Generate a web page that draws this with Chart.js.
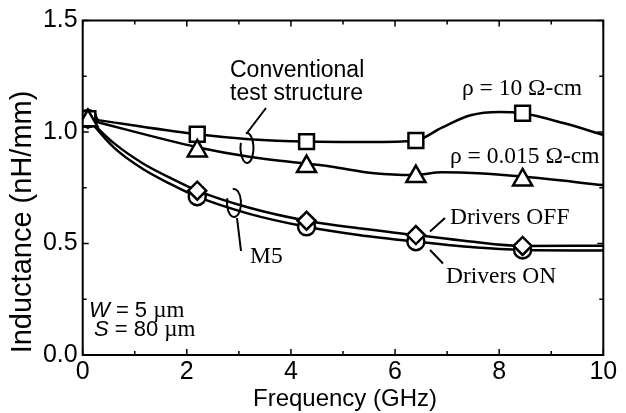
<!DOCTYPE html>
<html><head><meta charset="utf-8">
<script src="https://cdn.jsdelivr.net/npm/chart.js@4.4.1/dist/chart.umd.min.js"></script>
<style>html,body{margin:0;padding:0;background:#fff}#wrap{width:626px;height:413px}</style>
</head><body><div id="wrap"><canvas id="c" width="626" height="413"></canvas></div>
<script>
// ---- data ----
const xTickValues = [0, 2, 4, 6, 8, 10];
const yTickValues = [0.0, 0.5, 1.0, 1.5];
const markerFreq = [0.1, 2.2, 4.3, 6.4, 8.45];
const rho10Markers = [1.06, 0.99, 0.957, 0.962, 1.084];
const rho0015Markers = [1.05, 0.915, 0.845, 0.80, 0.785];
const offMarkers = [1.06, 0.737, 0.602, 0.538, 0.489];
const onMarkers = [1.06, 0.710, 0.575, 0.508, 0.471];

const rho10CurveFreq = [0.1, 2.2, 3.2, 4.3, 5.5, 6.4, 6.9, 7.45, 8.0, 8.45, 9.25, 10];
const rho10CurveVal  = [1.06, 0.99, 0.968, 0.957, 0.955, 0.962, 1.02, 1.075, 1.09, 1.084, 1.039, 0.987];
const rho0015CurveFreq = [0.1, 2.2, 3.2, 4.3, 4.76, 5.6, 6.35, 6.9, 7.6, 8.45, 10];
const rho0015CurveVal  = [1.055, 0.932, 0.889, 0.858, 0.845, 0.815, 0.807, 0.819, 0.815, 0.80, 0.762];
const offCurveFreq = [0.1, 0.6, 1.15, 1.7, 2.2, 3.2, 4.3, 5.3, 6.4, 7.4, 8.45, 10];
const offCurveVal  = [1.06, 0.95, 0.86, 0.792, 0.737, 0.66, 0.602, 0.568, 0.538, 0.51, 0.489, 0.49];
const onCurveFreq = [0.1, 0.6, 1.15, 1.7, 2.2, 3.2, 4.3, 5.3, 6.4, 7.4, 8.45, 10];
const onCurveVal  = [1.06, 0.93, 0.835, 0.765, 0.710, 0.633, 0.575, 0.538, 0.508, 0.485, 0.471, 0.469];

const SANS = '"Liberation Sans", Arial, Helvetica, sans-serif';
const SERIF = '"Liberation Serif", "Times New Roman", serif';

function pts(xs, ys) { return xs.map((x, i) => ({ x: x, y: ys[i] })); }
function curve(xs, ys) {
  return { data: pts(xs, ys), showLine: true, borderColor: '#000', borderWidth: 2.5,
    pointRadius: 0, pointHoverRadius: 0, cubicInterpolationMode: 'monotone', fill: false, order: 10 };
}
function markers(xs, ys, style, r, order) {
  return { data: pts(xs, ys), showLine: false, pointStyle: style, pointRadius: r, pointHoverRadius: r,
    backgroundColor: '#fff', borderColor: '#000', borderWidth: 2.5, order: order };
}

const deco = {
  id: 'deco',
  afterDraw(chart) {
    const ctx = chart.ctx, a = chart.chartArea, xs = chart.scales.x, ys = chart.scales.y;
    ctx.save();
    ctx.strokeStyle = '#000'; ctx.fillStyle = '#000'; ctx.lineWidth = 2;
    ctx.strokeRect(a.left, a.top, a.right - a.left, a.bottom - a.top);
    ctx.lineWidth = 1.5;
    ctx.beginPath();
    for (let v = 0; v <= 10; v += 1) {
      const px = xs.getPixelForValue(v), len = (v % 2 === 0) ? 6 : 4;
      ctx.moveTo(px, a.bottom); ctx.lineTo(px, a.bottom - len);
      ctx.moveTo(px, a.top); ctx.lineTo(px, a.top + len);
    }
    for (let k = 0; k <= 6; k++) {
      const v = k * 0.25, py = ys.getPixelForValue(v), len = (k % 2 === 0) ? 6 : 4;
      ctx.moveTo(a.left, py); ctx.lineTo(a.left + len, py);
      ctx.moveTo(a.right, py); ctx.lineTo(a.right - len, py);
    }
    ctx.stroke();

    // axis titles
    ctx.textAlign = 'center'; ctx.textBaseline = 'middle';
    ctx.font = '24px ' + SANS;
    ctx.fillText('Frequency (GHz)', 345, 399);
    ctx.save();
    ctx.translate(23, 222); ctx.rotate(-Math.PI / 2);
    ctx.font = '29px ' + SANS;
    ctx.fillText('Inductance (nH/mm)', 0, 0);
    ctx.restore();

    // annotations
    ctx.textBaseline = 'alphabetic'; ctx.textAlign = 'left';
    ctx.font = '23px ' + SANS;
    ctx.fillText('Conventional', 230, 77);
    ctx.fillText('test structure', 230, 100);
    ctx.font = '23.5px ' + SERIF;
    ctx.fillText('\u03C1 = 10 \u03A9-cm', 462, 95);
    ctx.fillText('\u03C1 = 0.015 \u03A9-cm', 450, 163);
    ctx.fillText('Drivers OFF', 450, 224);
    ctx.fillText('Drivers ON', 446, 283);
    ctx.fillText('M5', 250, 263);

    // W / S labels
    ctx.font = 'italic 22px ' + SANS;
    ctx.fillText('W', 89, 317);
    let wW = ctx.measureText('W').width;
    ctx.font = '22px ' + SANS;
    ctx.fillText(' = 5 ', 89 + wW, 317);
    let w2 = ctx.measureText(' = 5 ').width;
    ctx.font = '23px ' + SERIF;
    ctx.fillText('\u00B5m', 89 + wW + w2, 317);
    ctx.font = 'italic 22px ' + SANS;
    ctx.fillText('S', 94, 336);
    let sW = ctx.measureText('S').width;
    ctx.font = '22px ' + SANS;
    ctx.fillText(' = 80 ', 94 + sW, 336);
    let s2 = ctx.measureText(' = 80 ').width;
    ctx.font = '23px ' + SERIF;
    ctx.fillText('\u00B5m', 94 + sW + s2, 336);

    // leader lines and loops
    ctx.lineWidth = 2;
    ctx.beginPath();
    ctx.moveTo(266, 108); ctx.lineTo(247, 133);
    ctx.moveTo(430, 231.5); ctx.lineTo(445, 218);
    ctx.moveTo(430, 250); ctx.lineTo(443, 263.5);
    ctx.moveTo(237, 218); ctx.lineTo(241, 251);
    ctx.stroke();
    ctx.beginPath();
    ctx.ellipse(247, 148, 6.5, 15, 0, -100 * Math.PI / 180, 200 * Math.PI / 180);
    ctx.stroke();
    ctx.beginPath();
    ctx.ellipse(234, 203, 7, 14, 0, -100 * Math.PI / 180, 200 * Math.PI / 180);
    ctx.stroke();
    ctx.restore();
  }
};

new Chart(document.getElementById('c'), {
  type: 'scatter',
  data: {
    datasets: [
      curve(rho10CurveFreq, rho10CurveVal),
      curve(rho0015CurveFreq, rho0015CurveVal),
      curve(offCurveFreq, offCurveVal),
      curve(onCurveFreq, onCurveVal),
      markers(markerFreq, onMarkers, 'circle', 8.5, 4),
      markers(markerFreq, offMarkers, 'rectRot', 9, 3),
      markers(markerFreq, rho10Markers, 'rect', 10.5, 2),
      markers(markerFreq, rho0015Markers, 'triangle', 11, 1)
    ]
  },
  options: {
    responsive: false, animation: false, devicePixelRatio: 1,
    layout: { padding: { left: 0, top: 20.5, right: 22.7, bottom: 0 } },
    plugins: { legend: { display: false }, tooltip: { enabled: false } },
    scales: {
      x: {
        type: 'linear', min: 0, max: 10,
        afterFit(s) { s.height = 58; },
        afterBuildTicks(s) { s.ticks = xTickValues.map(v => ({ value: v })); },
        grid: { display: false, drawTicks: false }, border: { display: false },
        ticks: { color: '#000', padding: 2, font: { family: SANS, size: 25 }, maxRotation: 0,
          callback: v => String(v) }
      },
      y: {
        type: 'linear', min: 0, max: 1.5,
        afterFit(s) { s.width = 82.7; },
        afterBuildTicks(s) { s.ticks = yTickValues.map(v => ({ value: v })); },
        grid: { display: false, drawTicks: false }, border: { display: false },
        ticks: { color: '#000', padding: 5, font: { family: SANS, size: 25 },
          callback: v => Number(v).toFixed(1) }
      }
    }
  },
  plugins: [deco]
});
</script></body></html>
